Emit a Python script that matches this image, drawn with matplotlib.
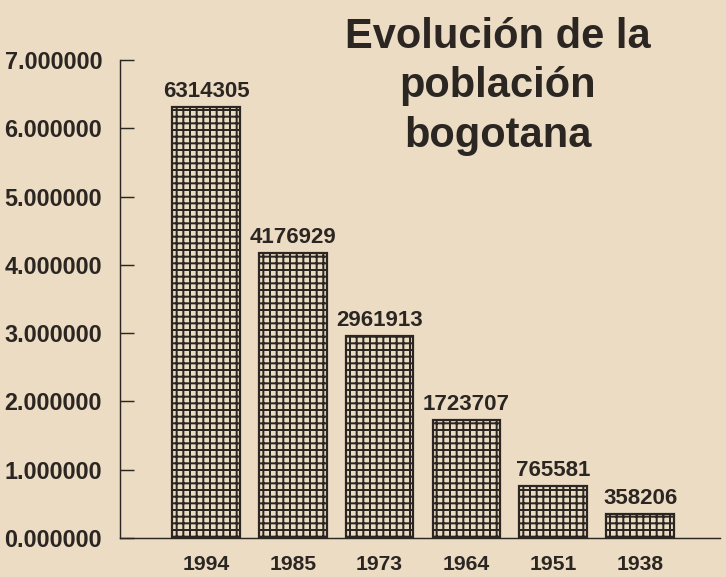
import matplotlib
matplotlib.use("Agg")
import matplotlib.pyplot as plt
from matplotlib.ticker import FuncFormatter

years = ["1994", "1985", "1973", "1964", "1951", "1938"]
population = [6314305, 4176929, 2961913, 1723707, 765581, 358206]
y_ticks = [0, 1000000, 2000000, 3000000, 4000000, 5000000, 6000000, 7000000]
title_lines = ["Evolución de la", "población", "bogotana"]

paper = "#ecdcc4"
ink = "#2b2622"

plt.rcParams["font.family"] = ["Liberation Sans", "DejaVu Sans"]
plt.rcParams["hatch.linewidth"] = 1.8
plt.rcParams["hatch.color"] = ink

dpi = 80
fig = plt.figure(figsize=(726 / dpi, 577 / dpi), dpi=dpi, facecolor=paper)
# axes box in pixels: left 120, right 720, bottom line at 538, top tick at 60
ax = fig.add_axes([120 / 726, 1 - 538 / 577, (720 - 120) / 726, (538 - 60) / 577])
ax.set_facecolor("none")

x = range(len(years))
ax.bar(x, population, width=0.78, color="#eadbc3", edgecolor=ink,
       linewidth=2.0, hatch="++", zorder=2)

for xi, v in zip(x, population):
    ax.annotate(str(v), (xi, v), xytext=(0, 9), textcoords="offset points",
                ha="center", va="baseline", fontsize=20, fontweight="bold",
                color=ink)

ax.set_xlim(-0.99, 5.92)
ax.set_ylim(0, 7000000)
ax.set_xticks(list(x))
ax.set_xticklabels(years, fontsize=19, fontweight="bold", color=ink)
ax.set_yticks(y_ticks)
ax.yaxis.set_major_formatter(FuncFormatter(lambda v, p: "%.6f" % (v / 1e6)))
for lab in ax.get_yticklabels():
    lab.set_fontweight("bold")
ax.tick_params(axis="y", direction="in", length=13, width=1.3, pad=16,
               labelsize=21, colors=ink)
ax.tick_params(axis="x", length=0, pad=15)

for s in ["top", "right"]:
    ax.spines[s].set_visible(False)
for s in ["left", "bottom"]:
    ax.spines[s].set_color(ink)
    ax.spines[s].set_linewidth(1.3)

for line, yb in zip(title_lines, [48, 97, 147]):
    fig.text(498 / 726, 1 - yb / 577, line, ha="center", va="baseline",
             fontsize=37.5, fontweight="bold", color=ink)

fig.savefig("out.png", dpi=dpi, facecolor=paper)
